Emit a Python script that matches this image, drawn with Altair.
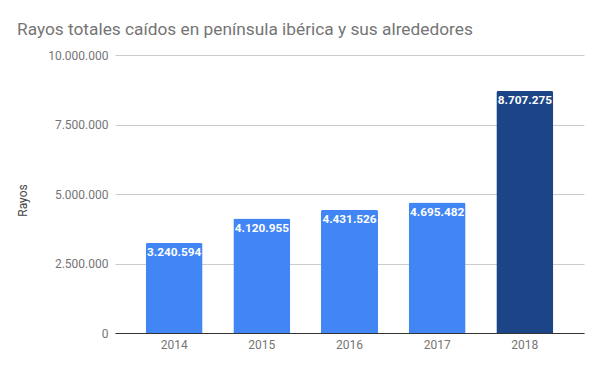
import altair as alt
import pandas as pd

years = ["2014", "2015", "2016", "2017", "2018"]
rayos = [3240594, 4120955, 4431526, 4695482, 8707275]
colors = ["#4285f4", "#4285f4", "#4285f4", "#4285f4", "#1c4587"]
y_ticks = [0, 2500000, 5000000, 7500000, 10000000]

def fmt(v):
    return f"{v:,}".replace(",", ".")

df = pd.DataFrame({"year": years, "rayos": rayos, "color": colors,
                   "label": [fmt(v) for v in rayos]})

FONT = "Roboto"

base = alt.Chart(df).encode(
    x=alt.X("year:N", title=None, sort=years,
            scale=alt.Scale(paddingInner=0.35, paddingOuter=0.35),
            axis=alt.Axis(labelAngle=0, ticks=False, labelColor="#757575",
                          labelFont=FONT, labelFontSize=12, labelPadding=6,
                          domainColor="#333333", domainWidth=1)),
)

bars = base.mark_bar(cornerRadiusTopLeft=2, cornerRadiusTopRight=2).encode(
    y=alt.Y("rayos:Q", title="Rayos",
            scale=alt.Scale(domain=[0, 10000000], nice=False),
            axis=alt.Axis(values=y_ticks, ticks=False, domain=False,
                          gridColor="#cccccc", labelColor="#757575",
                          labelFont=FONT, labelFontSize=12, labelPadding=7,
                          labelExpr="replace(format(datum.value, ','), regexp(',', 'g'), '.')",
                          titleFont=FONT, titleFontSize=12, titleFontWeight="normal",
                          titleColor="#444444", titleX=-86, titleY=145)),
    color=alt.Color("color:N", scale=None),
)

text = base.mark_text(color="white", font=FONT, fontSize=11.8, fontWeight="bold",
                      baseline="alphabetic", dy=13.5).encode(
    y=alt.Y("rayos:Q"),
    text="label:N",
)

chart = (bars + text).properties(
    width=469, height=278,
    autosize=alt.AutoSizeParams(type="none"),
    padding={"left": 107, "top": 47, "right": 11, "bottom": 25},
    title=alt.TitleParams("Rayos totales caídos en península ibérica y sus alrededores",
                          anchor="start", frame="group", font=FONT, fontSize=17.3,
                          fontWeight="normal", color="#757575", dx=-98, dy=17,
                          offset=14, baseline="alphabetic"),
).configure_view(stroke=None).configure_axis(gridWidth=1)

chart.save("out.html", embed_options={"renderer": "svg", "actions": False})
